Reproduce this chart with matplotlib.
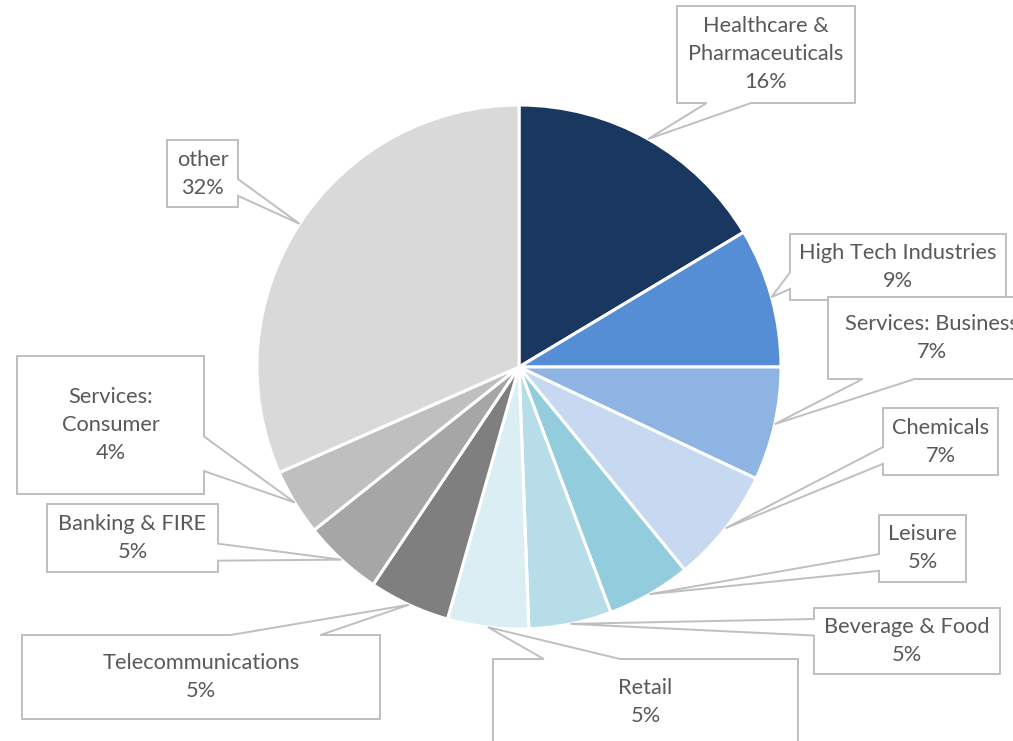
import matplotlib
matplotlib.use("Agg")
import matplotlib.pyplot as plt
import numpy as np
from matplotlib.patches import Polygon

# sector shares (%)
sectors = ["Healthcare &\nPharmaceuticals", "High Tech Industries", "Services: Business",
           "Chemicals", "Leisure", "Beverage & Food", "Retail", "Telecommunications",
           "Banking & FIRE", "Services:\nConsumer", "other"]
shares = [16.4, 8.6, 7.0, 7.1, 5.2, 5.1, 5.0, 5.0, 4.9, 4.1, 31.6]
colors = ["#1A375F", "#558ED5", "#8EB4E3", "#C6D9F1", "#93CDDD", "#B7DEE8",
          "#DBEEF4", "#7F7F7F", "#A6A6A6", "#BFBFBF", "#D9D9D9"]

# label boxes in pixels (left, top, right, bottom), y measured downwards
boxes = [(677, 6, 855, 103), (790, 234, 1006, 300), (828, 297, 1036, 379),
         (883, 408, 998, 475), (879, 515, 966, 582), (814, 608, 1000, 674),
         (493, 659, 798, 745), (22, 635, 380, 719), (47, 504, 218, 572),
         (17, 356, 204, 494), (167, 140, 238, 207)]

W, H = 1013, 741
CX, CY, R = 519, 367, 262

fig = plt.figure(figsize=(W / 100, H / 100), dpi=100)
ax = fig.add_axes([0, 0, 1, 1])

wedges, _ = ax.pie(shares, colors=colors, startangle=90, counterclock=False,
                   center=(CX, H - CY), radius=R,
                   wedgeprops=dict(edgecolor="white", linewidth=2.2))


def callout(box, tip):
    # rectangle with an Excel-like wedge pointing at tip (pixel coords, y down)
    x0, y0, x1, y1 = box
    w, h = x1 - x0, y1 - y0
    cx, cy = (x0 + x1) / 2, (y0 + y1) / 2
    dx, dy = (tip[0] - cx) / w, (tip[1] - cy) / h
    if abs(dx) > abs(dy):
        a, b = (7 / 12, 10 / 12) if tip[1] > cy else (2 / 12, 5 / 12)
        if dx > 0:
            pts = [(x0, y0), (x1, y0), (x1, y0 + a * h), tip, (x1, y0 + b * h), (x1, y1), (x0, y1)]
        else:
            pts = [(x0, y0), (x1, y0), (x1, y1), (x0, y1), (x0, y0 + b * h), tip, (x0, y0 + a * h)]
    else:
        a, b = (7 / 12, 10 / 12) if tip[0] > cx else (2 / 12, 5 / 12)
        if dy < 0:
            pts = [(x0, y0), (x0 + a * w, y0), tip, (x0 + b * w, y0), (x1, y0), (x1, y1), (x0, y1)]
        else:
            pts = [(x0, y0), (x1, y0), (x1, y1), (x0 + b * w, y1), tip, (x0 + a * w, y1), (x0, y1)]
    return [(x, H - y) for x, y in pts]


total = sum(shares)
for i, (wd, box) in enumerate(zip(wedges, boxes)):
    mid = np.deg2rad((wd.theta1 + wd.theta2) / 2)
    tip = (CX + R * np.cos(mid), CY - R * np.sin(mid))
    poly = Polygon(callout(box, tip), closed=True, facecolor="white",
                   edgecolor="#BFBFBF", linewidth=1.4, zorder=3 + 2 * i)
    ax.add_patch(poly)
    bx, by = (box[0] + box[2]) / 2, (box[1] + box[3]) / 2
    ax.text(bx, H - by, f"{sectors[i]}\n{round(shares[i] / total * 100)}%",
            ha="center", va="center", multialignment="center", color="#595959",
            fontsize=15.7, family="Lato", linespacing=1.5, zorder=4 + 2 * i)

ax.set_xlim(0, W)
ax.set_ylim(0, H)
ax.axis("off")
fig.savefig("out.png", dpi=100)
